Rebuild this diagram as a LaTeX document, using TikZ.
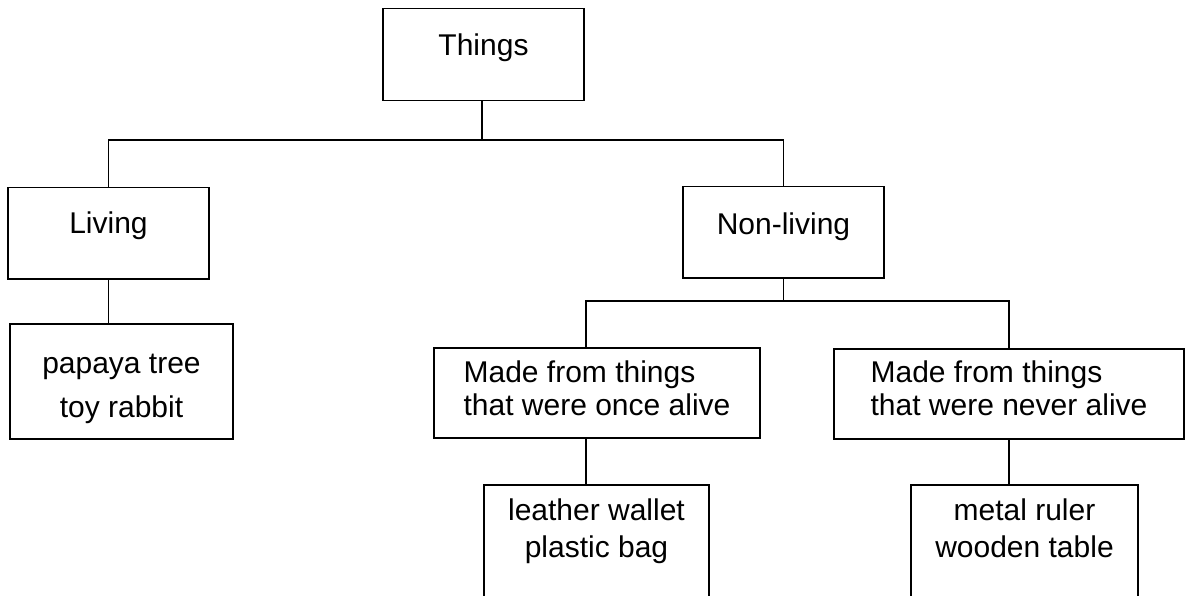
\documentclass[tikz,border=0pt]{standalone}
\usepackage{fontspec}
\setmainfont{Liberation Sans}
\usetikzlibrary{positioning,calc}

\begin{document}
\begin{tikzpicture}[
    x=1pt, y=-1pt,
    block/.style={draw, line width=1.5pt, anchor=north, inner sep=0pt, align=center, font=\fontsize{30}{33}\selectfont},
    leaf/.style={block, font=\fontsize{30}{37}\selectfont},
    line/.style={line width=1.5pt}
]
\clip (0,0) rectangle (1188,596);
\node[block, minimum width=201pt, text height=47pt, text depth=45pt] (things) at (483.5,8) {Things};
\node[block, minimum width=201pt, text height=46pt, text depth=45pt] (living) at (108.5,187) {Living};
\node[block, minimum width=201pt, text height=48pt, text depth=43pt] (nonliving) at (783.5,186) {Non-living};
\node[block, font=\fontsize{30}{44}\selectfont, minimum width=223pt, text height=94pt, text depth=21pt] (plants) at (121.5,323) {papaya tree\\toy rabbit};
\node[block, align=left, minimum width=326pt, text height=68pt, text depth=22pt] (once) at (597,347) {Made from things\\that were once alive};
\node[block, align=left, minimum width=350pt, text height=67pt, text depth=23pt] (never) at (1009,348) {Made from things\\that were never alive};
\node[leaf, minimum width=225pt, text height=73pt, text depth=150pt] (wallet) at (596.5,484) {leather wallet\\plastic bag};
\node[leaf, minimum width=227pt, text height=73pt, text depth=150pt] (ruler) at (1024.5,484) {metal ruler\\wooden table};
\coordinate (split) at (482,140);
\coordinate (split2) at (783.5,301);
\draw[line] (things.south -| split) -- (split);
\draw[line] (split) -| (living.north);
\draw[line] (split) -| (nonliving.north);
\draw[line] (living.south) -- (living.south |- plants.north);
\draw[line] (nonliving.south) -- (split2);
\draw[line] (split2) -| ([xshift=-11pt]once.north);
\draw[line] (split2) -| (never.north);
\draw[line] ([xshift=-11pt]once.south) -- ([xshift=-11pt]once.south |- wallet.north);
\draw[line] (never.south) -- (never.south |- ruler.north);
\end{tikzpicture}
\end{document}
